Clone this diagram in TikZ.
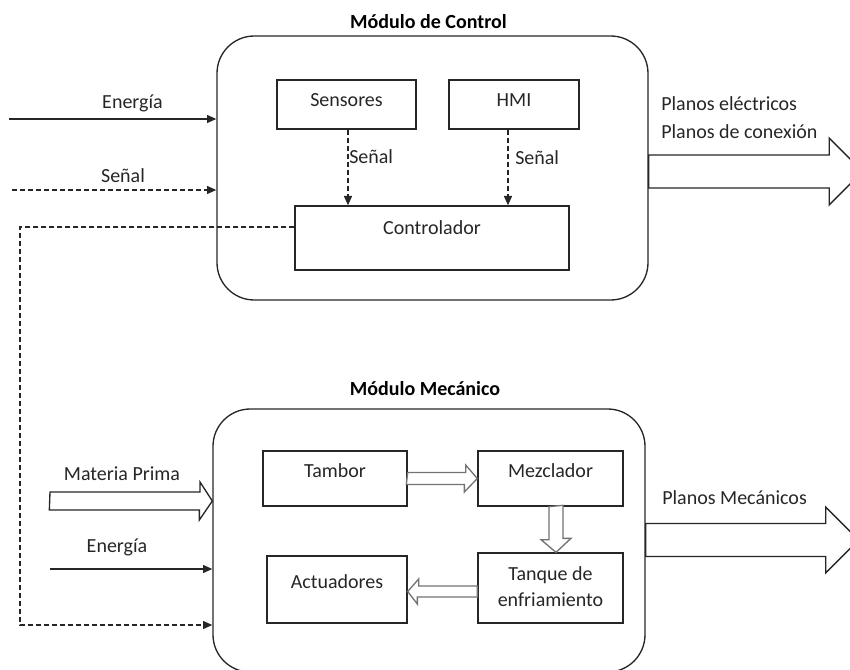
\documentclass[tikz,border=0pt]{standalone}
\usepackage{fontspec}
\setmainfont{Carlito}
\usetikzlibrary{arrows.meta,calc}

\tikzset{
  x=0.75pt, y=-0.75pt,
  every node/.style={font=\fontsize{15}{20}\selectfont, inner sep=0pt},
  ink/.style={draw=black!85, line width=1pt},
  module/.style={ink, rounded corners=28pt},
  box/.style={ink},
  txt/.style={anchor=base, text=black!85},
  title/.style={anchor=base, text=black, font=\fontsize{15}{20}\selectfont\bfseries},
  arr/.style={ink, -{Triangle[length=7pt,width=6pt]}},
  sig/.style={arr, dash pattern=on 3.75pt off 2.25pt},
  fat/.style={ink, fill=white, line join=miter},
  thin/.style={draw=black!55, line width=1pt, fill=white, line join=miter},
}

\begin{document}
\begin{tikzpicture}
\useasboundingbox (0,0) rectangle (850,670);
\clip (0,0) rectangle (850,670);

% ---------------- control module ----------------
\node[module, minimum width=323.25pt, minimum height=198pt] (ctrl) at (432.5,168) {};
\node[title] (ctrlT) at (428.5,29) {Módulo de Control};

\node[box, minimum width=104.25pt, minimum height=36.75pt] (sens) at (346.5,104.5) {};
\node[txt] (sensT) at (346.5,106.7) {Sensores};
\node[box, minimum width=97.5pt, minimum height=36.75pt] (hmi) at (514,104.5) {};
\node[txt] (hmiT) at (514,106.7) {HMI};
\node[box, minimum width=205.5pt, minimum height=48pt] (contr) at (432,238) {};
\node[txt] (contrT) at (432,235) {Controlador};

% inputs of the control module
\coordinate (eIn) at (9,119);
\draw[arr] (eIn) -- (eIn -| ctrl.west);
\node[txt] (eInT) at (132.5,109) {Energía};
\coordinate (sIn) at (12,190);
\draw[sig] (sIn) -- (sIn -| ctrl.west);
\node[txt] (sInT) at (123,182.7) {Señal};

% internal signals
\coordinate (sDown) at ($(sens.south)+(1.5,0)$);
\draw[sig] (sDown) -- (sDown |- contr.north);
\node[txt, anchor=base west] (sDownT) at (349,164) {Señal};
\coordinate (hDown) at ($(hmi.south)+(-6,0)$);
\draw[sig] (hDown) -- (hDown |- contr.north);
\node[txt, anchor=base west] (hDownT) at (515,165) {Señal};

% output of the control module
\coordinate (cOut) at (ctrl.east |- 0,171.5);
\draw[fat] ($(cOut)+(0,-16.5)$) -- ++(180.5,0) -- ++(0,-17) -- ++(33.5,33.5)
  -- ++(-33.5,33.5) -- ++(0,-17) -- ++(-180.5,0) -- cycle;
\node[txt, anchor=base west] (cOutT1) at (661,110.7) {Planos eléctricos};
\node[txt, anchor=base west] (cOutT2) at (661,138.3) {Planos de conexión};

% ---------------- mechanical module ----------------
\node[module, minimum width=324pt, minimum height=197.25pt] (mech) at (429,540.5) {};
\node[title] (mechT) at (425,395) {Módulo Mecánico};

\node[box, minimum width=108pt, minimum height=41.25pt] (tamb) at (335,478.5) {};
\node[txt] (tambT) at (335,477.3) {Tambor};
\node[box, minimum width=108.75pt, minimum height=41.25pt] (mezc) at (550.5,478.5) {};
\node[txt] (mezcT) at (550.5,477.3) {Mezclador};
\node[box, minimum width=105pt, minimum height=50.25pt] (act) at (337,589.5) {};
\node[txt] (actT) at (337,588.3) {Actuadores};
\node[box, minimum width=108.75pt, minimum height=52.5pt] (tanq) at (550.5,588) {};
\node[txt] (tanqT1) at (550.5,580) {Tanque de};
\node[txt] (tanqT2) at (550.5,606) {enfriamiento};

% material flow between the blocks
\draw[thin] ($(tamb.east)+(0,-6)$) -- ++(58,0) -- ++(0,-7.5) -- (mezc.west)
  -- ++(-13,13.5) -- ++(0,-7.5) -- ++(-58,0) -- cycle;
\draw[thin] ($(mezc.south)+(-1.5,0)$) -- ++(0,33) -- ++(-8,0) -- ($(tanq.north)+(5.5,0)$)
  -- ++(15,-14) -- ++(-8,0) -- ++(0,-33) -- cycle;
\draw[thin] ($(act.east)+(0,2)$) -- ++(11,-12.5) -- ++(0,7) -- ($(tanq.west)+(0,-2)$)
  -- ++(0,11) -- ++(-60,0) -- ++(0,7) -- cycle;

% inputs of the mechanical module
\coordinate (mpIn) at (50,501);
\draw[fat] ($(mpIn)+(0,-9)$) -- ++(150,0) -- ++(0,-10) -- (mpIn -| mech.west)
  -- ++(-13,19) -- ++(0,-10) -- ++(-150,0) -- cycle;
\node[txt] (mpInT) at (122,480) {Materia Prima};
\coordinate (e2In) at (50,569);
\draw[arr] (e2In) -- (e2In -| mech.west);
\node[txt] (e2InT) at (117,552.7) {Energía};

% signal loop from the controller
\coordinate (loopA) at (20,227);
\coordinate (loopB) at (20,625);
\draw[sig] (contr.west |- loopA) -- (loopA) -- (loopB) -- (loopB -| mech.west);

% output of the mechanical module
\coordinate (mOut) at (mech.east |- 0,540);
\draw[fat] ($(mOut)+(0,-16.5)$) -- ++(180,0) -- ++(0,-16.5) -- ++(33,33)
  -- ++(-33,33) -- ++(0,-16.5) -- ++(-180,0) -- cycle;
\node[txt, anchor=base west] (mOutT) at (662,504) {Planos Mecánicos};
\end{tikzpicture}
\end{document}
